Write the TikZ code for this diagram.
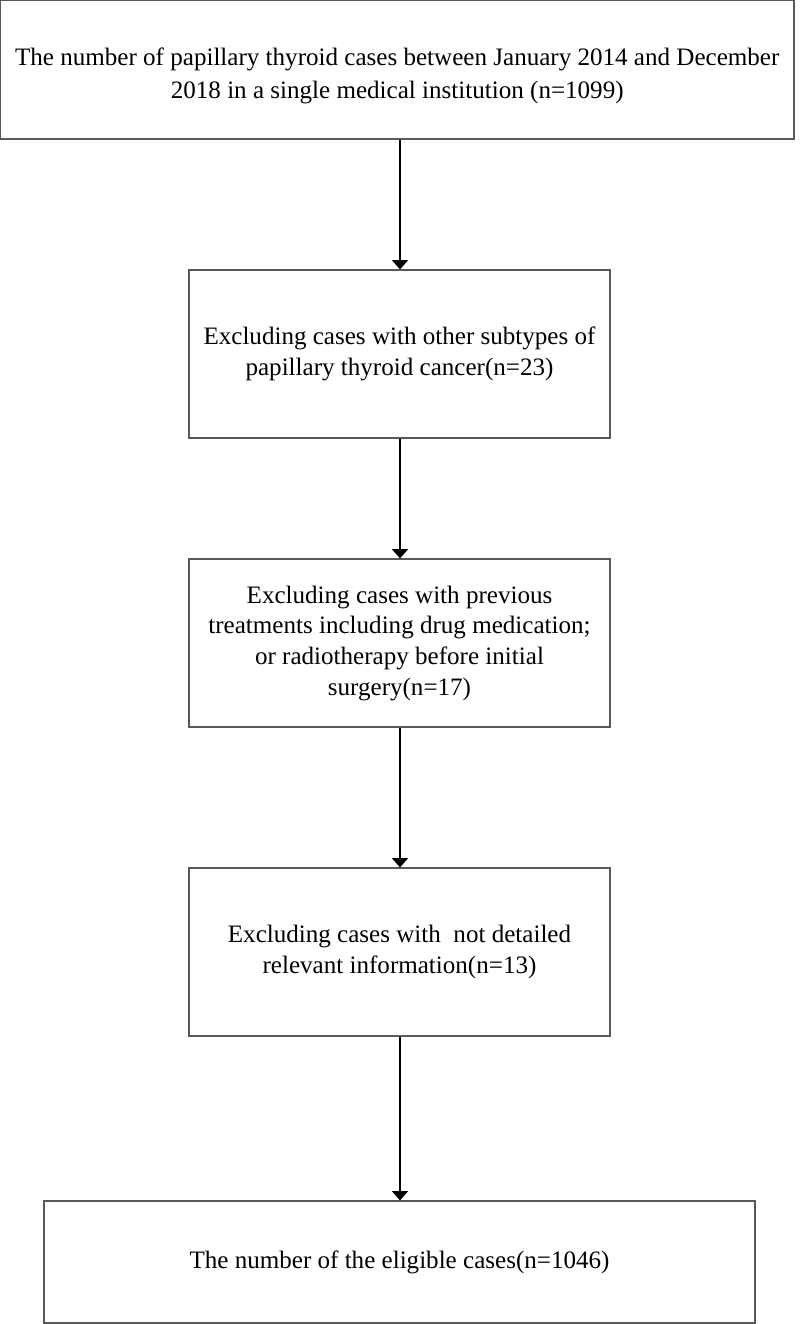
\documentclass[tikz,border=0pt]{standalone}
\usepackage{fontspec}
\setmainfont{Liberation Serif}
\usetikzlibrary{arrows.meta}
\definecolor{boxgray}{HTML}{595959}
\tikzset{
  stagebox/.style={draw=boxgray, line width=0.9pt, align=center, inner sep=0pt,
    font=\fontsize{18.8}{23}\selectfont},
  arr/.style={draw=black, line width=1.5pt, -{Triangle[width=12pt,length=7pt]}}
}
\begin{document}
\begin{tikzpicture}[x=0.75pt,y=-0.75pt]
\useasboundingbox (0,0) rectangle (800,1324);
\node[stagebox, minimum width=793.5pt*0.75, minimum height=138.5pt*0.75,
  font=\fontsize{18.8}{24.5}\selectfont] (b1) at (397.25,69.75)
  {\rule{0pt}{22.7pt}The number of papillary thyroid cases between January 2014 and December\\2018 in a single medical institution (n=1099)};
\node[stagebox, minimum width=421pt*0.75, minimum height=168pt*0.75] (b2) at (399.5,354)
  {Excluding cases with other subtypes of\\papillary thyroid cancer(n=23)};
\node[stagebox, minimum width=421pt*0.75, minimum height=168pt*0.75] (b3) at (399.5,643)
  {Excluding cases with previous\\treatments including drug medication;\\or radiotherapy before initial\\surgery(n=17)};
\node[stagebox, minimum width=421pt*0.75, minimum height=168pt*0.75] (b4) at (399.5,952)
  {Excluding cases with~ not detailed\\relevant information(n=13)};
\node[stagebox, minimum width=711pt*0.75, minimum height=122pt*0.75] (b5) at (399.5,1262)
  {The number of the eligible cases(n=1046)};
\coordinate (ax) at (400,0);
\draw[arr] (b1.south -| ax) -- (b2.north -| ax);
\draw[arr] (b2.south -| ax) -- (b3.north -| ax);
\draw[arr] (b3.south -| ax) -- (b4.north -| ax);
\draw[arr] (b4.south -| ax) -- (b5.north -| ax);
\end{tikzpicture}
\end{document}
